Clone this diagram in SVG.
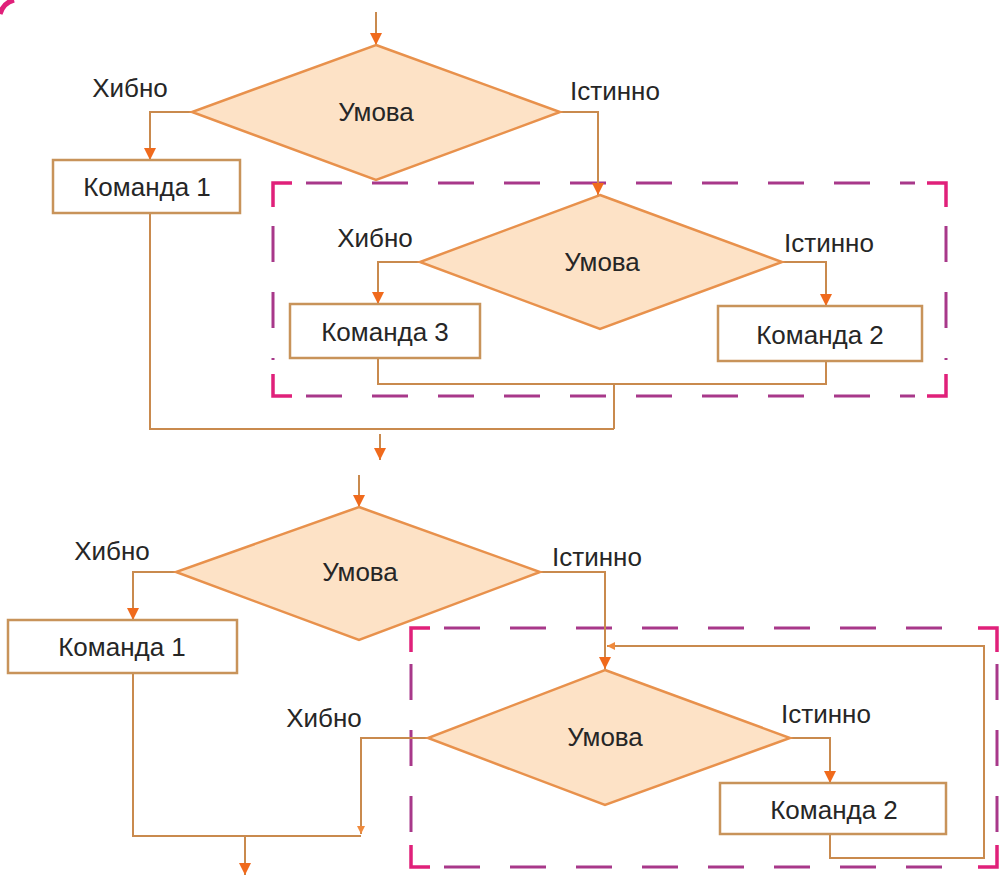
<svg xmlns="http://www.w3.org/2000/svg" width="1000" height="875" viewBox="0 0 1000 875">
<style>
.dia{fill:#fde2c6;stroke:#e8914c;stroke-width:2.5}
.box{fill:#fff;stroke:#c8935a;stroke-width:2.5}
.t{font-family:"Liberation Sans",Arial,sans-serif;font-size:26px;fill:#262626;text-anchor:middle}
.l{font-family:"Liberation Sans",Arial,sans-serif;font-size:26px;fill:#262626;text-anchor:middle}
.c{fill:none;stroke:#c98a4e;stroke-width:2}
.dash{fill:none;stroke:#a8388a;stroke-width:3;stroke-dasharray:36 30}
.corner{fill:none;stroke:#e0207a;stroke-width:3.5}
</style>
<defs>
<marker id="ah" markerUnits="userSpaceOnUse" markerWidth="14" markerHeight="12" refX="12" refY="6" orient="auto">
<path d="M0,0 L12,6 L0,12 Z" fill="#f06a1c"/>
</marker>
<marker id="ahs" markerUnits="userSpaceOnUse" markerWidth="10" markerHeight="8" refX="8" refY="4" orient="auto">
<path d="M0,0 L8,4 L0,8 Z" fill="#f08a3c"/>
</marker>
</defs>
<rect width="1000" height="875" fill="#ffffff"/>
<path d="M0,14 Q3,3 14,0" fill="none" stroke="#e0207a" stroke-width="5"/>

<g id="frames">
<g id="frame1">
<line class="dash" x1="306" y1="183" x2="915" y2="183"/>
<line class="dash" x1="306" y1="396" x2="915" y2="396"/>
<line class="dash" x1="273" y1="226" x2="273" y2="360"/>
<line class="dash" x1="946" y1="226" x2="946" y2="360"/>
<path class="corner" d="M273,207 V183 H292"/>
<path class="corner" d="M927,183 H946 V207"/>
<path class="corner" d="M273,374 V396 H292"/>
<path class="corner" d="M927,396 H946 V374"/>
</g>
<g id="frame2">
<line class="dash" x1="444" y1="628" x2="970" y2="628"/>
<line class="dash" x1="444" y1="867" x2="970" y2="867"/>
<line class="dash" x1="411" y1="664" x2="411" y2="840"/>
<line class="dash" x1="997" y1="664" x2="997" y2="840"/>
<path class="corner" d="M411,652 V628 H430"/>
<path class="corner" d="M978,628 H997 V652"/>
<path class="corner" d="M411,845 V867 H430"/>
<path class="corner" d="M978,867 H997 V845"/>
</g>
</g>

<g id="connectors">
<line class="c" x1="376" y1="12" x2="376" y2="45" marker-end="url(#ah)"/>
<polyline class="c" points="192,112 150,112 150,160" marker-end="url(#ah)"/>
<polyline class="c" points="560,112 598,112 598,195" marker-end="url(#ah)"/>
<polyline class="c" points="420,262 378,262 378,304" marker-end="url(#ah)"/>
<polyline class="c" points="782,262 826,262 826,306" marker-end="url(#ah)"/>
<polyline class="c" points="378,358 378,384 826,384 826,361"/>
<polyline class="c" points="614,384 614,429"/>
<polyline class="c" points="150,213 150,429 614,429"/>
<line class="c" x1="380" y1="434" x2="380" y2="460" marker-end="url(#ah)"/>
<line class="c" x1="359" y1="475" x2="359" y2="507" marker-end="url(#ah)"/>
<polyline class="c" points="176,572 133,572 133,620" marker-end="url(#ah)"/>
<polyline class="c" points="540,572 605,572 605,669" marker-end="url(#ah)"/>
<polyline class="c" points="790,738 830,738 830,783" marker-end="url(#ah)"/>
<polyline class="c" points="830,834 830,858 984,858 984,646 607,646" marker-end="url(#ahs)"/>
<polyline class="c" points="428,738 361,738 361,834" marker-end="url(#ahs)"/>
<polyline class="c" points="133,673 133,836 361,836"/>
<line class="c" x1="245" y1="836" x2="245" y2="875" marker-end="url(#ah)"/>
</g>

<g id="cond1">
<polygon class="dia" points="376,45 560,112 376,180 192,112"/>
<text class="t" x="376" y="121">Умова</text>
</g>
<g id="label-false1"><text class="l" x="130" y="97">Хибно</text></g>
<g id="label-true1"><text class="l" x="615" y="100">Істинно</text></g>
<g id="cmd1a">
<rect class="box" x="53" y="160" width="187" height="53"/>
<text class="t" x="147" y="196">Команда 1</text>
</g>
<g id="cond2">
<polygon class="dia" points="600,195 782,262 600,329 420,262"/>
<text class="t" x="602" y="271">Умова</text>
</g>
<g id="label-false2"><text class="l" x="375" y="247">Хибно</text></g>
<g id="label-true2"><text class="l" x="829" y="252">Істинно</text></g>
<g id="cmd3">
<rect class="box" x="290" y="304" width="190" height="54"/>
<text class="t" x="385" y="341">Команда 3</text>
</g>
<g id="cmd2a">
<rect class="box" x="718" y="306" width="204" height="55"/>
<text class="t" x="820" y="344">Команда 2</text>
</g>

<g id="cond3">
<polygon class="dia" points="359,507 540,572 359,640 176,572"/>
<text class="t" x="360" y="581">Умова</text>
</g>
<g id="label-false3"><text class="l" x="112" y="560">Хибно</text></g>
<g id="label-true3"><text class="l" x="597" y="566">Істинно</text></g>
<g id="cmd1b">
<rect class="box" x="8" y="620" width="229" height="53"/>
<text class="t" x="122" y="656">Команда 1</text>
</g>
<g id="cond4">
<polygon class="dia" points="605,670 790,738 605,805 428,738"/>
<text class="t" x="605" y="746">Умова</text>
</g>
<g id="label-false4"><text class="l" x="324" y="727">Хибно</text></g>
<g id="label-true4"><text class="l" x="826" y="723">Істинно</text></g>
<g id="cmd2b">
<rect class="box" x="720" y="783" width="226" height="51"/>
<text class="t" x="834" y="819">Команда 2</text>
</g>
</svg>
